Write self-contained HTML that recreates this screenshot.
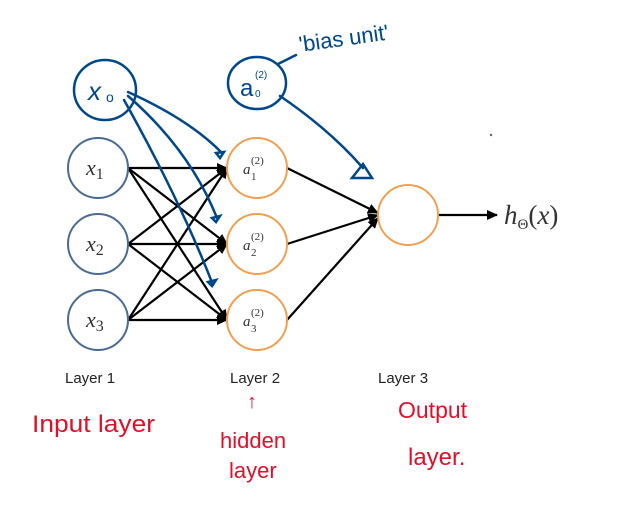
<!DOCTYPE html>
<html><head><meta charset="utf-8"><style>
html,body{margin:0;padding:0;background:#fff;width:625px;height:505px;overflow:hidden}
svg{display:block}
.m{font-family:"Liberation Serif",serif;font-style:italic;fill:#333}
.l{font-family:"Liberation Sans",sans-serif;font-size:15px;fill:#222}
.h{font-family:"Liberation Sans",sans-serif;fill:#00478a}
.r{font-family:"Liberation Sans",sans-serif;fill:#e0102a}
</style></head><body>
<svg width="625" height="505" viewBox="0 0 625 505">
<defs>
<marker id="a" markerWidth="11" markerHeight="10" refX="10" refY="5" orient="auto" markerUnits="userSpaceOnUse"><path d="M0,0 L11,5 L0,10 z" fill="#000"/></marker>
</defs>
<g stroke="#000" stroke-width="2.2" marker-end="url(#a)">
<line x1="128" y1="168" x2="227" y2="168"/><line x1="128" y1="168" x2="227" y2="244"/><line x1="128" y1="168" x2="227" y2="320"/>
<line x1="128" y1="244" x2="227" y2="168"/><line x1="128" y1="244" x2="227" y2="244"/><line x1="128" y1="244" x2="227" y2="320"/>
<line x1="128" y1="320" x2="227" y2="168"/><line x1="128" y1="320" x2="227" y2="244"/><line x1="128" y1="320" x2="227" y2="320"/>
<line x1="287" y1="168" x2="378" y2="213"/><line x1="287" y1="244" x2="378" y2="215"/><line x1="287" y1="320" x2="378" y2="218"/>
<line x1="438" y1="215" x2="497" y2="215"/>
</g>
<g fill="#fff" stroke="#4a6a95" stroke-width="2">
<circle cx="98" cy="168" r="30"/><circle cx="98" cy="244" r="30"/><circle cx="98" cy="320" r="30"/>
</g>
<g fill="#fff" stroke="#f0a050" stroke-width="2">
<circle cx="257" cy="168" r="30"/><circle cx="257" cy="244" r="30"/><circle cx="257" cy="320" r="30"/>
<circle cx="408" cy="215" r="30"/>
</g>
<text class="m" x="86" y="175" font-size="22">x<tspan font-size="16" font-style="normal" dy="4">1</tspan></text>
<text class="m" x="86" y="251" font-size="22">x<tspan font-size="16" font-style="normal" dy="4">2</tspan></text>
<text class="m" x="86" y="327" font-size="22">x<tspan font-size="16" font-style="normal" dy="4">3</tspan></text>
<g class="m" font-size="15" fill="#555">
<text x="243" y="174">a</text><text x="251" y="164" font-size="11" font-style="normal">(2)</text><text x="251" y="180" font-size="11" font-style="normal">1</text>
<text x="243" y="250">a</text><text x="251" y="240" font-size="11" font-style="normal">(2)</text><text x="251" y="256" font-size="11" font-style="normal">2</text>
<text x="243" y="326">a</text><text x="251" y="316" font-size="11" font-style="normal">(2)</text><text x="251" y="332" font-size="11" font-style="normal">3</text>
</g>
<text class="m" x="504" y="224" font-size="27" fill="#222">h<tspan font-size="15" font-style="normal" dy="5">Θ</tspan><tspan font-style="normal" dy="-5">(</tspan>x<tspan font-style="normal">)</tspan></text>
<text class="l" x="65" y="383">Layer 1</text>
<text class="l" x="230" y="383">Layer 2</text>
<text class="l" x="378" y="383">Layer 3</text>
<g fill="none" stroke="#00478a" stroke-width="2.5" stroke-linecap="round">
<ellipse cx="105" cy="90" rx="31" ry="30"/>
<ellipse cx="257" cy="83" rx="29" ry="26"/>
<path d="M278,64 L296,55"/>
<path d="M128,92 Q190,120 222,153"/>
<path d="M128,96 Q190,150 217,218"/>
<path d="M124,100 Q180,200 213,285"/>
<path d="M280,96 Q330,130 363,168"/>
<path d="M352,178 L372,178 L363,164 Z"/>
<path d="M216,153 L224,152 L220,158 Z"/><path d="M212,218 L220,216 L216,222Z"/><path d="M208,282 L216,280 L212,286Z"/>
</g>
<text class="h" x="88" y="100" font-size="26" font-style="italic">x</text><text class="h" x="106" y="102" font-size="14">o</text>
<text class="h" x="240" y="96" font-size="24">a</text><text class="h" x="255" y="78" font-size="10">(2)</text><text class="h" x="255" y="97" font-size="10">0</text>
<text class="h" x="300" y="52" font-size="22" transform="rotate(-8 300 52)">'bias unit'</text>
<text class="r" x="32" y="432" font-size="24" textLength="123" lengthAdjust="spacingAndGlyphs">Input layer</text>
<text class="r" x="247" y="408" font-size="20">↑</text>
<text class="r" x="220" y="448" font-size="22">hidden</text>
<text class="r" x="229" y="478" font-size="22">layer</text>
<text class="r" x="398" y="418" font-size="23">Output</text>
<text class="r" x="408" y="465" font-size="24">layer.</text>
<circle cx="491" cy="135" r="1.2" fill="#666"/>
</svg>
</body></html>
